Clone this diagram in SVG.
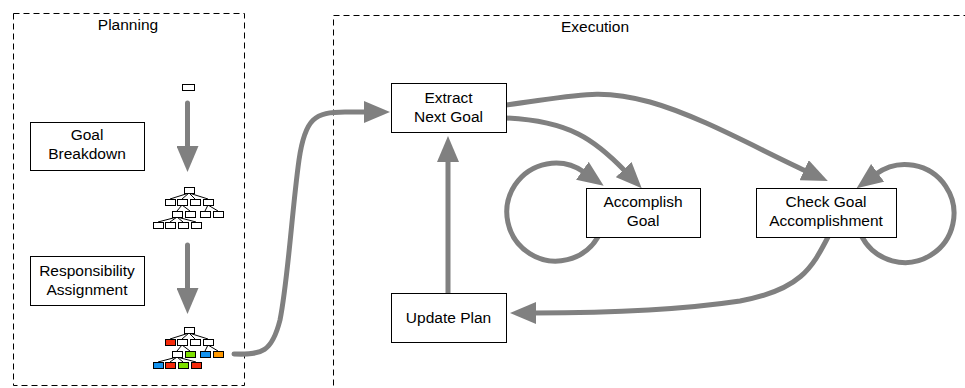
<svg xmlns="http://www.w3.org/2000/svg" width="965" height="388" viewBox="0 0 965 388">
<style>
text{font-family:"Liberation Sans",Arial,sans-serif;font-size:15.5px;fill:#000;text-anchor:middle}
.frame{fill:none;stroke:#000;stroke-width:1;stroke-dasharray:6,4}
.node{fill:#fff;stroke:#000;stroke-width:1}
.conn{fill:none;stroke:#808080;stroke-width:5;stroke-linecap:round}
.tb{fill:#fff;stroke:#000;stroke-width:1}
.tl{stroke:#000;stroke-width:1}
.r{fill:#f52a0a}.g{fill:#7ee000}.b{fill:#1493f0}.o{fill:#ff9800}
</style>
<defs>
<marker id="ah" markerUnits="userSpaceOnUse" markerWidth="26" markerHeight="22" viewBox="0 0 26 22" refX="2" refY="11" orient="auto">
<path d="M0,0 L26,11 L0,22 z" fill="#808080"/>
</marker>
<g id="treeLines">
<path class="tl" d="M189,193 L170,199 M189,193 L182,199 M189,193 L195,199 M189,193 L208,199 M182,205 L177,211 M182,205 L190,211 M208,205 L205,211 M208,205 L218,211 M177,217 L158,222 M177,217 L170,222 M177,217 L183,222 M177,217 L196,222"/>
</g>
</defs>

<g id="planning">
<rect class="frame" x="13.5" y="13.5" width="231" height="372"/>
<text x="128" y="30">Planning</text>
</g>
<g id="execution">
<rect class="frame" x="333.5" y="15.5" width="700" height="400"/>
<text x="595" y="32">Execution</text>
</g>

<g id="goal-breakdown">
<rect class="node" x="30.5" y="122.5" width="114" height="48"/>
<text x="87" y="140">Goal</text>
<text x="87" y="159">Breakdown</text>
</g>
<g id="responsibility-assignment">
<rect class="node" x="30.5" y="256.5" width="114" height="49"/>
<text x="87" y="276">Responsibility</text>
<text x="87" y="295">Assignment</text>
</g>

<g id="root-goal">
<rect class="tb" x="182.5" y="84.5" width="12" height="6"/>
</g>

<g id="goal-tree">
<use href="#treeLines"/>
<rect class="tb" x="184.5" y="187.5" width="10" height="6"/>
<rect class="tb" x="165.5" y="199.5" width="10" height="6"/>
<rect class="tb" x="177.5" y="199.5" width="10" height="6"/>
<rect class="tb" x="190.5" y="199.5" width="10" height="6"/>
<rect class="tb" x="203.5" y="199.5" width="10" height="6"/>
<rect class="tb" x="172.5" y="211.5" width="10" height="6"/>
<rect class="tb" x="185.5" y="211.5" width="10" height="6"/>
<rect class="tb" x="200.5" y="211.5" width="10" height="6"/>
<rect class="tb" x="213.5" y="211.5" width="10" height="6"/>
<rect class="tb" x="153.5" y="222.5" width="10" height="6"/>
<rect class="tb" x="165.5" y="222.5" width="10" height="6"/>
<rect class="tb" x="178.5" y="222.5" width="10" height="6"/>
<rect class="tb" x="191.5" y="222.5" width="10" height="6"/>
</g>

<g id="assigned-tree" transform="translate(0,140)">
<use href="#treeLines"/>
<rect class="tb" x="184.5" y="187.5" width="10" height="6"/>
<rect class="tb r" x="165.5" y="199.5" width="10" height="6"/>
<rect class="tb" x="177.5" y="199.5" width="10" height="6"/>
<rect class="tb" x="190.5" y="199.5" width="10" height="6"/>
<rect class="tb" x="203.5" y="199.5" width="10" height="6"/>
<rect class="tb" x="172.5" y="211.5" width="10" height="6"/>
<rect class="tb g" x="185.5" y="211.5" width="10" height="6"/>
<rect class="tb b" x="200.5" y="211.5" width="10" height="6"/>
<rect class="tb o" x="213.5" y="211.5" width="10" height="6"/>
<rect class="tb b" x="153.5" y="222.5" width="10" height="6"/>
<rect class="tb r" x="165.5" y="222.5" width="10" height="6"/>
<rect class="tb g" x="178.5" y="222.5" width="10" height="6"/>
<rect class="tb r" x="191.5" y="222.5" width="10" height="6"/>
</g>

<g id="connectors">
<path class="conn" d="M187.5,103 L187.5,148" marker-end="url(#ah)"/>
<path class="conn" d="M187.5,245 L187.5,290" marker-end="url(#ah)"/>
<path class="conn" d="M234,354 C262,355 272,352 280,320 C288,280 292,210 299,160 C305,118 315,112 345,112 L366,112" marker-end="url(#ah)"/>
<path class="conn" d="M448,293 L448,160" marker-end="url(#ah)"/>
<path class="conn" d="M506,105 C580,95 600,88 650,102 C700,116 760,150 806,171" marker-end="url(#ah)"/>
<path class="conn" d="M506,118 C570,121 595,140 625,171" marker-end="url(#ah)"/>
<path class="conn" d="M598,237 A49,49 0 1 1 584,172" marker-end="url(#ah)"/>
<path class="conn" d="M862,237 A49,49 0 1 0 876,174" marker-end="url(#ah)"/>
<path class="conn" d="M828,237 C812,268 800,290 740,301 C680,310 600,313 534,313" marker-end="url(#ah)"/>
</g>

<g id="extract-next-goal">
<rect class="node" x="391.5" y="83.5" width="115" height="49"/>
<text x="448.5" y="102.5">Extract</text>
<text x="448.5" y="121.5">Next Goal</text>
</g>
<g id="update-plan">
<rect class="node" x="391.5" y="293.5" width="115" height="49"/>
<text x="448.5" y="323">Update Plan</text>
</g>
<g id="accomplish-goal">
<rect class="node" x="586.5" y="188.5" width="114" height="49"/>
<text x="643" y="207">Accomplish</text>
<text x="643" y="226">Goal</text>
</g>
<g id="check-goal-accomplishment">
<rect class="node" x="756.5" y="188.5" width="140" height="49"/>
<text x="826" y="207">Check Goal</text>
<text x="826" y="226">Accomplishment</text>
</g>
</svg>
